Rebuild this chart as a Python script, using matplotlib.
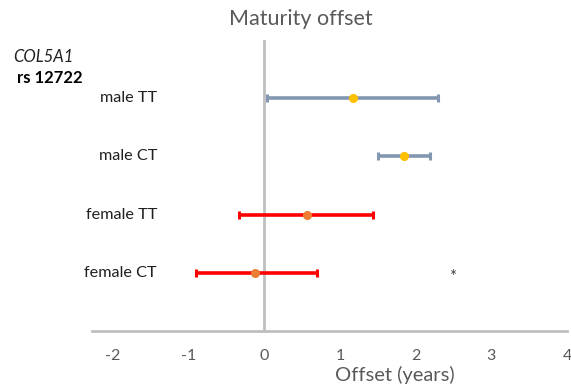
import numpy as np
import matplotlib.pyplot as plt

plt.rcParams['font.family'] = ['Lato', 'DejaVu Sans']

## Values
groups = ['male TT', 'male CT', 'female TT', 'female CT']
mean_offset = [1.17, 1.84, 0.56, -0.12]
ci_low = [0.03, 1.50, -0.33, -0.91]
ci_high = [2.30, 2.19, 1.44, 0.69]
bar_colors = ['#8497B0', '#8497B0', '#FF0000', '#FF0000']
dot_colors = ['#FFC000', '#FFC000', '#ED7D31', '#ED7D31']
xticks = [-2, -1, 0, 1, 2, 3, 4]

ypos = [4, 3, 2, 1]

fig = plt.figure(figsize=(5.71, 3.87), dpi=100)
ax = fig.add_axes([92/571, 56/387, 475/571, 291/387])

## error bars + mean dots, one row per group
for i in range(len(groups)):
    err = [[mean_offset[i] - ci_low[i]], [ci_high[i] - mean_offset[i]]]
    ax.errorbar(mean_offset[i], ypos[i], xerr=err, fmt='none',
                ecolor=bar_colors[i], elinewidth=2.6, capsize=3, capthick=2.2, zorder=3)
    ax.plot(mean_offset[i], ypos[i], 'o', color=dot_colors[i], ms=5.5, zorder=4)
    ax.text(-1.42, ypos[i], groups[i], ha='right', va='center', fontsize=11.7, color='#202020')

ax.axvline(0, color='#BFBFBF', lw=2, zorder=1)
ax.text(2.49, 0.93, '*', ha='center', va='center', fontsize=12, color='#404040')

ax.set_xlim(-2.28, 4.0)
ax.set_ylim(0, 5)
ax.set_xticks(xticks)
ax.set_xticklabels([str(t) for t in xticks])
ax.set_yticks([])
ax.tick_params(axis='x', length=0, pad=13, labelsize=11.5, labelcolor='#595959')
for s in ['top', 'right', 'left']:
    ax.spines[s].set_visible(False)
ax.spines['bottom'].set_color('#BFBFBF')
ax.spines['bottom'].set_linewidth(2)

ax.set_xlabel('Offset (years)', fontsize=14.5, color='#595959')
ax.xaxis.set_label_coords((395 - 92) / 475, -(375 - 331) / 291)
ax.xaxis.label.set_va('center')

fig.text(301/571, 1 - 19/387, 'Maturity offset', ha='center', va='center', fontsize=15.5, color='#595959')
fig.text(13/571, 1 - 57/387, 'COL5A1', ha='left', va='center', fontsize=12, style='italic', color='#202020')
fig.text(17/571, 1 - 78/387, 'rs 12722', ha='left', va='center', fontsize=12, weight='bold', color='#000000')

plt.savefig('out.png', dpi=100)
